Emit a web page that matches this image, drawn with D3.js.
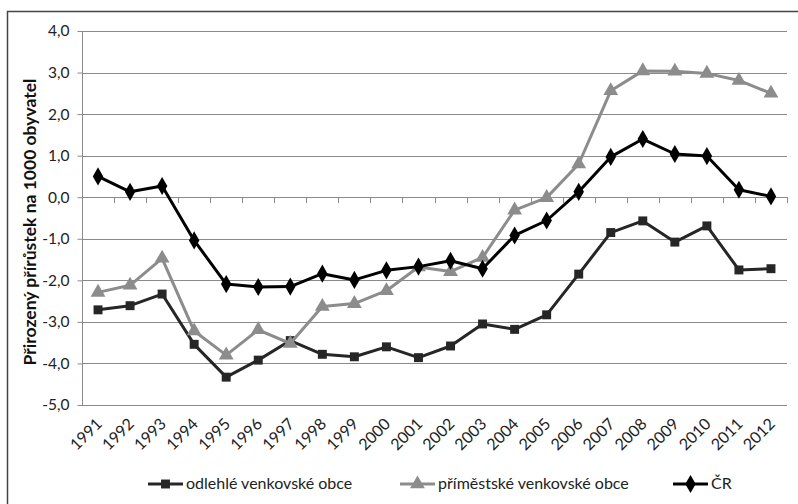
<!DOCTYPE html>
<html>
<head>
<meta charset="utf-8">
<script src="https://cdn.jsdelivr.net/npm/d3@7"></script>
<style>
  body { margin: 0; background: #fff; }
  text { font-family: Lato, "Open Sans", sans-serif; }
</style>
</head>
<body>
<div id="chart"></div>
<script>
// Years on the x axis
const years = ["1991","1992","1993","1994","1995","1996","1997","1998","1999","2000","2001",
  "2002","2003","2004","2005","2006","2007","2008","2009","2010","2011","2012"];

// odlehlé venkovské obce
const odlehle = [-2.71,-2.61,-2.33,-3.54,-4.33,-3.92,-3.45,-3.78,-3.84,-3.6,-3.86,
  -3.58,-3.05,-3.18,-2.83,-1.85,-0.85,-0.57,-1.08,-0.69,-1.75,-1.72];

// příměstské venkovské obce
const primestske = [-2.29,-2.12,-1.47,-3.22,-3.8,-3.19,-3.52,-2.63,-2.56,-2.25,-1.68,
  -1.79,-1.45,-0.31,-0.01,0.8,2.56,3.04,3.03,2.98,2.81,2.5];

// ČR
const cr = [0.5,0.13,0.27,-1.04,-2.09,-2.16,-2.15,-1.84,-1.99,-1.76,-1.67,
  -1.53,-1.72,-0.92,-0.56,0.13,0.97,1.4,1.04,0.99,0.18,0.02];

const yTicks = [4,3,2,1,0,-1,-2,-3,-4,-5];
const seriesNames = ["odlehlé venkovské obce", "příměstské venkovské obce", "ČR"];

const width = 798, height = 504;
const plotLeft = 82, plotRight = 787, plotTop = 31, plotBottom = 405;

const svg = d3.select("#chart").append("svg")
  .attr("width", width)
  .attr("height", height);

// outer frame (runs off the right and bottom edge)
svg.append("rect")
  .attr("x", 7.5).attr("y", 11.5)
  .attr("width", 800).attr("height", 520)
  .attr("fill", "none")
  .attr("stroke", "#444")
  .attr("stroke-width", 1.5);

const x = d3.scaleBand().domain(years).range([plotLeft, plotRight]);
const y = d3.scaleLinear().domain([-5, 4]).range([plotBottom, plotTop]);

// gridlines
svg.append("g")
  .selectAll("line")
  .data(yTicks)
  .join("line")
  .attr("x1", plotLeft).attr("x2", plotRight)
  .attr("y1", d => Math.round(y(d)) + 0.5)
  .attr("y2", d => Math.round(y(d)) + 0.5)
  .attr("stroke", "#8a8a8a")
  .attr("stroke-width", 1);

// y axis
const yAxis = d3.axisLeft(y)
  .tickValues(yTicks)
  .tickSize(5)
  .tickPadding(8)
  .tickFormat(d => d3.format(".1f")(d).replace(".", ",").replace("−", "-"));
const gy = svg.append("g")
  .attr("transform", `translate(${plotLeft + 0.5},0)`)
  .call(yAxis);
gy.select(".domain").attr("stroke", "#8a8a8a").attr("d", `M0,${plotTop}V${plotBottom}`);
gy.selectAll(".tick line").attr("stroke", "#8a8a8a");
gy.selectAll(".tick text")
  .attr("font-size", 15.5)
  .attr("fill", "#222")
  .attr("font-family", "Lato, sans-serif");

// x axis at zero, ticks between categories
const boundaries = years.map(d => x(d)).concat([plotRight]);
const y0 = Math.round(y(0));
const gx = svg.append("g");
gx.append("line")
  .attr("x1", plotLeft).attr("x2", plotRight)
  .attr("y1", y0 + 0.5).attr("y2", y0 + 0.5)
  .attr("stroke", "#8a8a8a");
gx.selectAll("line.tk")
  .data(boundaries)
  .join("line")
  .attr("class", "tk")
  .attr("x1", d => Math.round(d) + 0.5).attr("x2", d => Math.round(d) + 0.5)
  .attr("y1", y0).attr("y2", y0 + 6)
  .attr("stroke", "#8a8a8a");

// x labels, rotated
svg.append("g")
  .selectAll("text")
  .data(years)
  .join("text")
  .attr("transform", d => `translate(${x(d) + x.bandwidth() / 2 + 5},${plotBottom + 20}) rotate(-45)`)
  .attr("text-anchor", "end")
  .attr("font-size", 16)
  .attr("fill", "#222")
  .text(d => d);

// y axis title
svg.append("text")
  .attr("transform", `translate(36,${(plotTop + plotBottom) / 2 + 4}) rotate(-90)`)
  .attr("text-anchor", "middle")
  .attr("font-size", 17.5)
  .attr("font-weight", "bold")
  .attr("fill", "#111")
  .text("Přirozený přírůstek na 1000 obyvatel");

const series = [
  { name: seriesNames[0], values: odlehle, color: "#262626", marker: d3.symbolSquare, size: 80 },
  { name: seriesNames[1], values: primestske, color: "#8c8c8c", marker: d3.symbolTriangle, size: 95 },
  { name: seriesNames[2], values: cr, color: "#000000", marker: d3.symbolDiamond, size: 95 }
];

const line = d3.line()
  .x((d, i) => x(years[i]) + x.bandwidth() / 2)
  .y(d => y(d));

series.forEach(s => {
  const g = svg.append("g");
  g.append("path")
    .attr("d", line(s.values))
    .attr("fill", "none")
    .attr("stroke", s.color)
    .attr("stroke-width", 3)
    .attr("stroke-linejoin", "round");
  g.selectAll("path.m")
    .data(s.values)
    .join("path")
    .attr("class", "m")
    .attr("d", d3.symbol().type(s.marker).size(s.size))
    .attr("transform", (d, i) => `translate(${x(years[i]) + x.bandwidth() / 2},${y(d)})`)
    .attr("fill", s.color);
});

// legend
const legendPos = [148, 400, 673];
const lg = svg.append("g");
series.forEach((s, i) => {
  const lx = legendPos[i], ly = 484;
  lg.append("line")
    .attr("x1", lx).attr("x2", lx + 35)
    .attr("y1", ly).attr("y2", ly)
    .attr("stroke", s.color).attr("stroke-width", 3);
  lg.append("path")
    .attr("d", d3.symbol().type(s.marker).size(s.size)())
    .attr("transform", `translate(${lx + 17.5},${ly})`)
    .attr("fill", s.color);
  lg.append("text")
    .attr("x", lx + 38).attr("y", ly + 5)
    .attr("font-size", 16)
    .attr("fill", "#222")
    .text(s.name);
});
</script>
</body>
</html>
